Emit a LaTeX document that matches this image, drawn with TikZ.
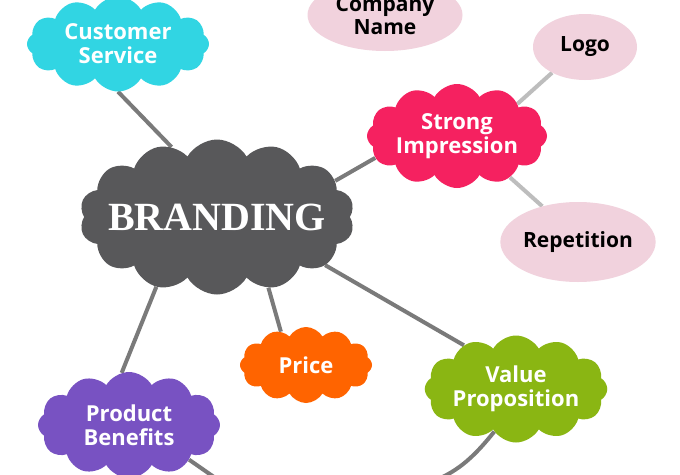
\documentclass[tikz,border=0pt]{standalone}
\usepackage{fontspec}
\setmainfont{Open Sans}
\newfontfamily\brandfont{Liberation Serif}
\usetikzlibrary{shapes.symbols,shapes.geometric,backgrounds}
\definecolor{cscyan}{HTML}{31D5E3}
\definecolor{sired}{HTML}{F52160}
\definecolor{brgray}{HTML}{58585A}
\definecolor{prorange}{HTML}{FF6400}
\definecolor{vpgreen}{HTML}{8AB613}
\definecolor{pbpurple}{HTML}{7852C2}
\definecolor{elpink}{HTML}{F1D2DD}
\definecolor{linedark}{HTML}{7A7A7A}
\definecolor{linelight}{HTML}{BDBDBD}
\tikzset{
  cloudnode/.style={cloud, cloud puffs=12, cloud puff arc=120, cloud ignores aspect,
    inner sep=0pt, text=white, align=center,
    font=\bfseries\fontsize{22}{24}\selectfont},
  ellnode/.style={ellipse, fill=elpink, inner sep=0pt, text=black, align=center,
    font=\bfseries\fontsize{21}{23}\selectfont},
  darkline/.style={draw=linedark, line width=4pt},
  lightline/.style={draw=linelight, line width=4pt},
}
\begin{document}
\begin{tikzpicture}[x=1pt,y=-1pt]
\useasboundingbox (0,0) rectangle (680,474);

\node[cloudnode, fill=cscyan, minimum width=182pt, minimum height=95pt] (cs) at (118,44) {Customer\\Service};
\node[cloudnode, fill=brgray, minimum width=275pt, minimum height=155pt, cloud puffs=14,
      label={[text=white, font=\brandfont\bfseries\fontsize{40}{44}\selectfont]center:BRANDING}] (br) at (217,217) {};
\node[cloudnode, fill=sired, minimum width=180pt, minimum height=104pt] (si) at (457,136) {Strong\\Impression};
\node[cloudnode, fill=prorange, minimum width=132pt, minimum height=76pt] (pr) at (306,365) {Price};
\node[cloudnode, fill=vpgreen, minimum width=182pt, minimum height=107pt] (vp) at (516,389) {Value\\Proposition};
\node[cloudnode, fill=pbpurple, minimum width=182pt, minimum height=106pt] (pb) at (129,425) {Product\\Benefits};

\node[ellnode, minimum width=155pt, minimum height=72pt] (cn) at (385,15) {Company\\Name};
\node[ellnode, minimum width=104pt, minimum height=66pt] (lg) at (585,47) {Logo};
\node[ellnode, minimum width=155pt, minimum height=80pt] (rp) at (578,242) {Repetition};

\coordinate (pbout) at (224,484);
\coordinate (vpout) at (432,482);

\begin{pgfonlayer}{background}
\fill[white] (0,0) rectangle (680,474);
\draw[darkline] (cs.-90) -- (br.123);
\draw[darkline] (br.17) -- (si.195);
\draw[lightline] (si.28) -- (lg.218);
\draw[lightline] (si.-38) -- (rp.135);
\draw[darkline] (br.229) -- (pb.98);
\draw[darkline] (br.-54) -- (pr.127);
\draw[darkline] (br.-24) -- (vp.140);
\draw[darkline] (pb.-30) -- (pbout);
\draw[darkline] (vp.243) .. controls (470,462) and (455,472) .. (vpout);
\end{pgfonlayer}
\end{tikzpicture}
\end{document}
